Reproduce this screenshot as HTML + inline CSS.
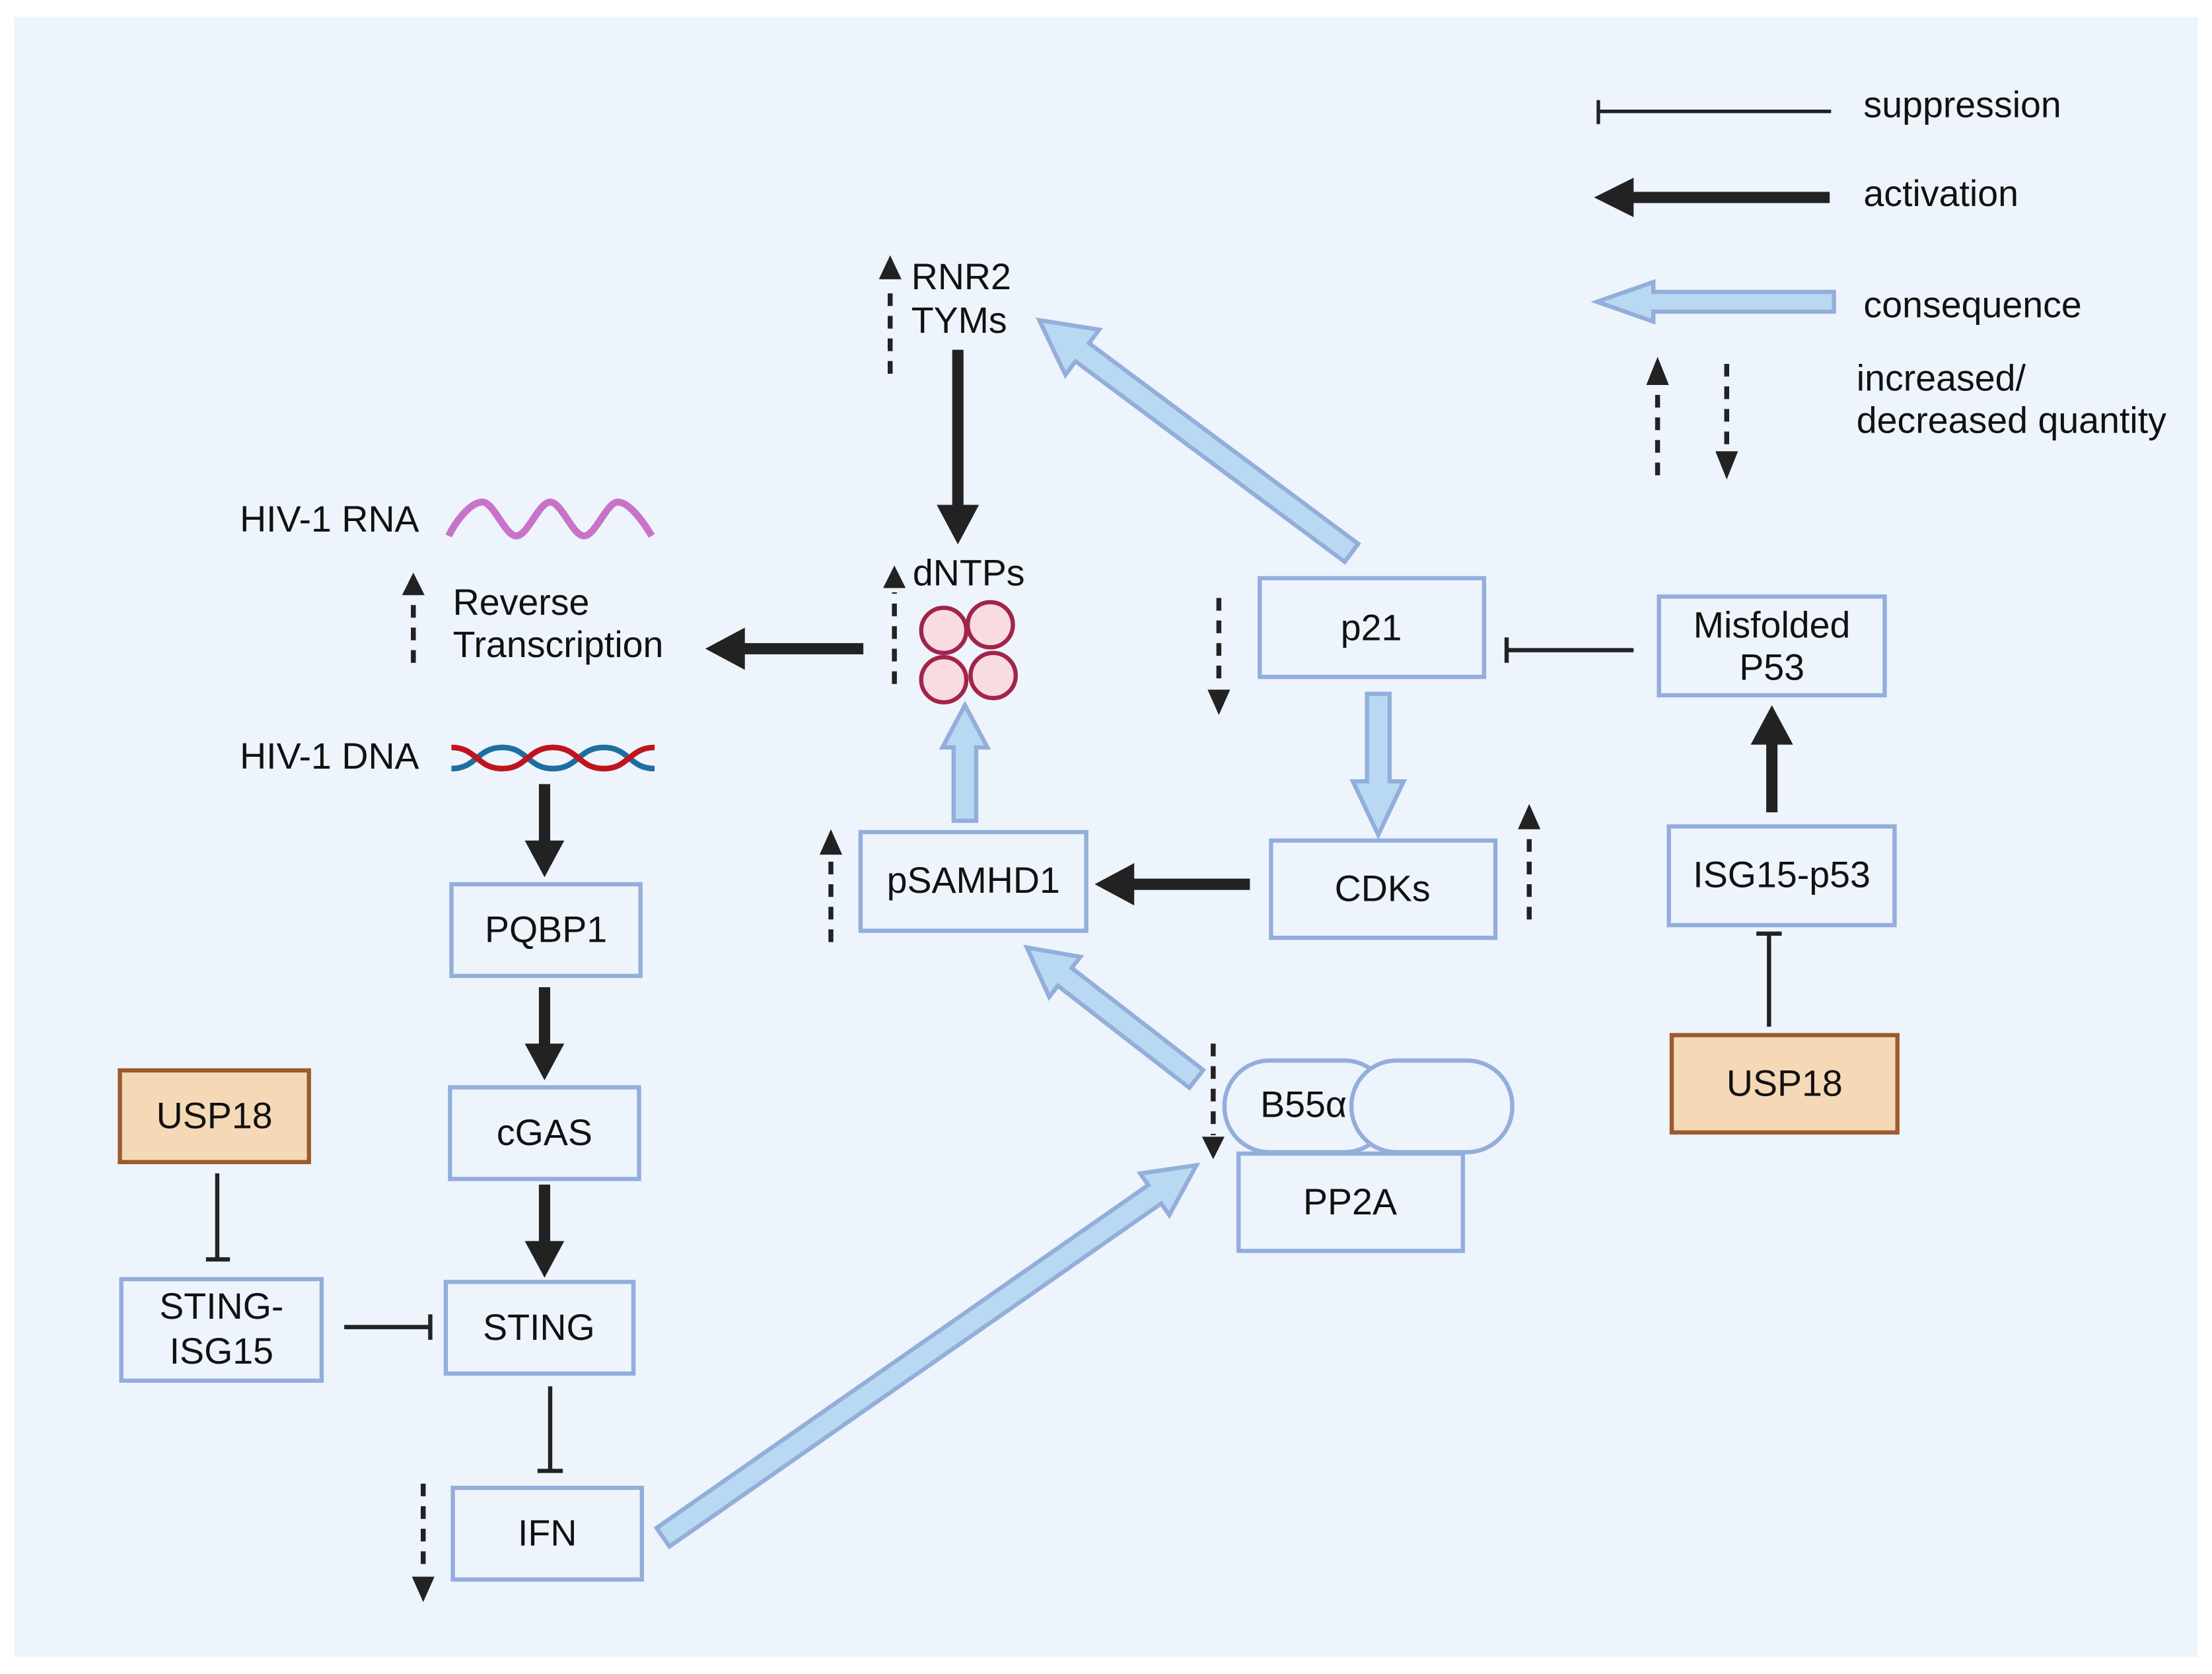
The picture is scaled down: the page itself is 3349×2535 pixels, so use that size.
<!DOCTYPE html>
<html><head><meta charset="utf-8"><style>
html,body{margin:0;padding:0;background:#fff}
svg{display:block}
text{font-family:"Liberation Sans",sans-serif;font-size:26px;fill:#111}
</style></head><body>
<svg width="3349" height="2535" viewBox="0 0 1568 1187" preserveAspectRatio="none" xmlns="http://www.w3.org/2000/svg">
<rect x="0" y="0" width="1568" height="1187" fill="#fff"/>
<rect x="10" y="12" width="1548" height="1163" fill="#eef4fc"/>
<g fill="#eef4fc" stroke="#93aedb" stroke-width="3">
<rect x="893" y="410" width="159" height="70"/>
<rect x="1176" y="423" width="160" height="70"/>
<rect x="901" y="596" width="159" height="69"/>
<rect x="610" y="590" width="160" height="70"/>
<rect x="1183" y="586" width="160" height="70"/>
<rect x="320" y="627" width="134" height="65"/>
<rect x="319" y="771" width="134" height="65"/>
<rect x="316" y="909" width="133" height="65"/>
<rect x="86" y="907" width="142" height="72"/>
<rect x="321" y="1055" width="134" height="65"/>
<rect x="878" y="818" width="159" height="69"/>
<rect x="868" y="752" width="117" height="65" rx="32"/>
<rect x="958" y="752" width="114" height="65" rx="32"/>
</g>
<g fill="#f5d9b6" stroke="#9c5a2e" stroke-width="3">
<rect x="1185" y="734" width="160" height="69"/>
<rect x="85" y="759" width="134" height="65"/>
</g>
<g text-anchor="middle">
<text x="972" y="454">p21</text>
<text x="1256" y="452">Misfolded</text>
<text x="1256" y="482">P53</text>
<text x="980" y="639">CDKs</text>
<text x="690" y="633">pSAMHD1</text>
<text x="1263" y="629">ISG15-p53</text>
<text x="1265" y="777">USP18</text>
<text x="387" y="668">PQBP1</text>
<text x="386" y="812">cGAS</text>
<text x="382" y="950">STING</text>
<text x="157" y="935">STING-</text>
<text x="157" y="967">ISG15</text>
<text x="152" y="800">USP18</text>
<text x="388" y="1096">IFN</text>
<text x="957" y="861">PP2A</text>
<text x="924" y="792">B55α</text>
</g>
<text x="170" y="377">HIV-1 RNA</text>
<text x="321" y="436">Reverse</text>
<text x="321" y="466">Transcription</text>
<text x="170" y="545">HIV-1 DNA</text>
<text x="646" y="205">RNR2</text>
<text x="646" y="236">TYMs</text>
<text x="647" y="415">dNTPs</text>
<text x="1321" y="83">suppression</text>
<text x="1321" y="146">activation</text>
<text x="1321" y="225">consequence</text>
<text x="1316" y="277">increased/</text>
<text x="1316" y="307">decreased quantity</text>
<path d="M318,380 C324,368 334,356 342,356 C350,356 358,380 366,380 C374,380 382,356 390,356 C398,356 406,380 414,380 C422,380 430,356 438,356 C446,356 456,370 462,380" fill="none" stroke="#c873c9" stroke-width="5"/>
<path d="M320,545 C338,545 338,530 356,530 C374,530 374,545 392,545 C410,545 410,530 428,530 C446,530 446,545 464,545" fill="none" stroke="#1f6ea0" stroke-width="4"/>
<path d="M320,530 C338,530 338,545 356,545 C374,545 374,530 392,530 C410,530 410,545 428,545 C446,545 446,530 464,530" fill="none" stroke="#c0141c" stroke-width="4"/>
<g fill="#f9dbe2" stroke="#a0254a" stroke-width="3">
<circle cx="669" cy="447" r="16"/><circle cx="702" cy="443" r="16"/>
<circle cx="669" cy="482" r="16"/><circle cx="704" cy="479" r="16"/>
</g>
<g fill="#b9d8f2" stroke="#93aedb" stroke-width="3">
<polygon transform="translate(958,392) rotate(216.7)" points="0,-8 238,-8 238,-20 276,0 238,20 238,8 0,8"/>
<polygon transform="translate(977,492) rotate(90)" points="0,-8 62,-8 62,-18 100,0 62,18 62,8 0,8"/>
<polygon transform="translate(684,582) rotate(-90)" points="0,-8 52,-8 52,-16 82,0 52,16 52,8 0,8"/>
<polygon transform="translate(848,765) rotate(217.8)" points="0,-8 118,-8 118,-18 152,0 118,18 118,8 0,8"/>
<polygon transform="translate(470,1090) rotate(-34.9)" points="0,-8 425,-8 425,-18 461,0 425,18 425,8 0,8"/>
<polygon transform="translate(1300,214) rotate(180)" points="0,-7 128,-7 128,-14 168,0 128,14 128,7 0,7"/>
</g>
<g fill="#222">
<polygon transform="translate(679,248) rotate(90)" points="0,-4 110,-4 110,-15 138,0 110,15 110,4 0,4"/>
<polygon transform="translate(612,460) rotate(180)" points="0,-4 84,-4 84,-15 112,0 84,15 84,4 0,4"/>
<polygon transform="translate(386,556) rotate(90)" points="0,-4 40,-4 40,-14 66,0 40,14 40,4 0,4"/>
<polygon transform="translate(386,700) rotate(90)" points="0,-4 40,-4 40,-14 66,0 40,14 40,4 0,4"/>
<polygon transform="translate(386,840) rotate(90)" points="0,-4 40,-4 40,-14 66,0 40,14 40,4 0,4"/>
<polygon transform="translate(886,627) rotate(180)" points="0,-4 82,-4 82,-15 110,0 82,15 82,4 0,4"/>
<polygon transform="translate(1256,576) rotate(-90)" points="0,-4 48,-4 48,-15 76,0 48,15 48,4 0,4"/>
<polygon transform="translate(1297,140) rotate(180)" points="0,-4 139,-4 139,-14 167,0 139,14 139,4 0,4"/>
</g>
<g stroke="#222" stroke-width="3" fill="none">
<path d="M1158,461 H1068 M1068,452 V470"/>
<path d="M154,832 V893 M146,893 H163"/>
<path d="M244,941 H305 M305,932 V950"/>
<path d="M390,983 V1043 M381,1043 H399"/>
<path d="M1254,728 V662 M1245,662 H1263"/>
<path d="M1298,79 H1133 M1133,71 V88" stroke-width="2.5"/>
</g>
<g stroke="#222" stroke-width="3.5" stroke-dasharray="9,7" fill="none">
<path d="M631,265 V202"/><path d="M634,485 V420"/><path d="M293,470 V424"/>
<path d="M864,424 V488"/><path d="M1084,652 V590"/><path d="M589,668 V607"/>
<path d="M860,740 V805"/><path d="M300,1052 V1116"/><path d="M1175,337 V274"/>
<path d="M1224,258 V320"/>
</g>
<g fill="#222">
<polygon points="623,198 639,198 631,181"/>
<polygon points="626,417 642,417 634,401"/>
<polygon points="285,422 301,422 293,406"/>
<polygon points="856,489 872,489 864,507"/>
<polygon points="1076,588 1092,588 1084,570"/>
<polygon points="581,606 597,606 589,588"/>
<polygon points="852,806 868,806 860,822"/>
<polygon points="292,1118 308,1118 300,1136"/>
<polygon points="1167,273 1183,273 1175,253"/>
<polygon points="1216,320 1232,320 1224,340"/>
</g>
</svg>
</body></html>
